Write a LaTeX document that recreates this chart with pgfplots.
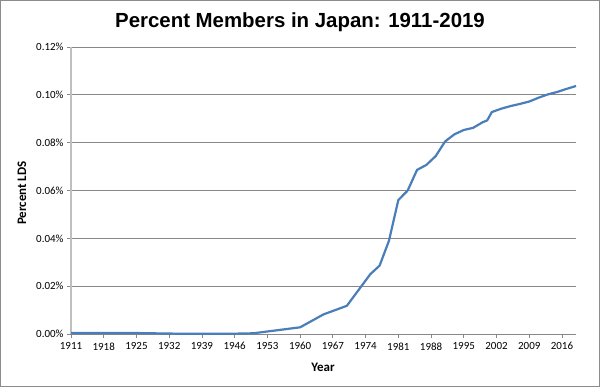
\documentclass[border=0pt]{standalone}
\usepackage{pgfplots}
\pgfplotsset{compat=1.18}
\usepackage{fontspec}
\setmainfont{Carlito}
\newfontfamily\arialfont{Liberation Sans}
\definecolor{linecol}{HTML}{4A7EBB}
\definecolor{gridcol}{HTML}{878787}
\definecolor{frame}{HTML}{8C8C8C}
\begin{document}
\begin{tikzpicture}[x=1bp,y=1bp]
\useasboundingbox (0,0) rectangle (600,387);
\fill[white] (0,0) rectangle (600,387);
\draw[frame, line width=1bp] (0.5,0.5) rectangle (599.5,386.5);
\node[font=\arialfont\bfseries\fontsize{20.5}{23}\selectfont] at (300,365) {Percent Members in Japan: 1911-2019};
\node[font=\bfseries\fontsize{13}{15}\selectfont, rotate=90] at (22,194) {Percent LDS};
\node[font=\bfseries\fontsize{13}{15}\selectfont] at (323,20) {Year};
\begin{axis}[
  at={(71bp,53bp)}, anchor=south west,
  scale only axis, width=505bp, height=287bp,
  xmin=1911, xmax=2019, ymin=0, ymax=0.12,
  axis lines=left, axis line style={-},
  x axis line style={gridcol, line width=0.8bp},
  y axis line style={black!25, line width=1.6bp},
  xtick={1911,1918,1925,1932,1939,1946,1953,1960,1967,1974,1981,1988,1995,2002,2009,2016},
  xticklabels={1911,1918,1925,1932,1939,1946,1953,1960,1967,1974,1981,1988,1995,2002,2009,2016},
  ytick={0,0.02,0.04,0.06,0.08,0.10,0.12},
  yticklabels={0.00\%,0.02\%,0.04\%,0.06\%,0.08\%,0.10\%,0.12\%},
  tick align=outside, major tick length=4bp,
  tick style={gridcol, line width=0.8bp},
  ymajorgrids, grid style={gridcol, line width=0.8bp},
  ticklabel style={font=\fontsize{11}{13}\selectfont},
  xticklabel style={yshift=-1bp},
  clip=false,
]
\addplot[linecol, line width=2.2bp, line join=round] coordinates {
(1911,0.0004) (1925,0.0004) (1935,0.0001) (1945,0.0001) (1950,0.0003)
(1960,0.0028) (1965,0.0082) (1970,0.0118) (1975,0.0250) (1977,0.0286)
(1979,0.0390) (1981,0.0560) (1983,0.0600) (1985,0.0686) (1987,0.0707)
(1989,0.0744) (1991,0.0805) (1993,0.0835) (1995,0.0853) (1997,0.0862)
(1999,0.0885) (2000,0.0893) (2001,0.0928) (2003,0.0942) (2005,0.0953)
(2007,0.0962) (2009,0.0972) (2011,0.0988) (2013,0.1002) (2015,0.1012)
(2017,0.1025) (2019,0.1037)
};
\end{axis}
\end{tikzpicture}
\end{document}
